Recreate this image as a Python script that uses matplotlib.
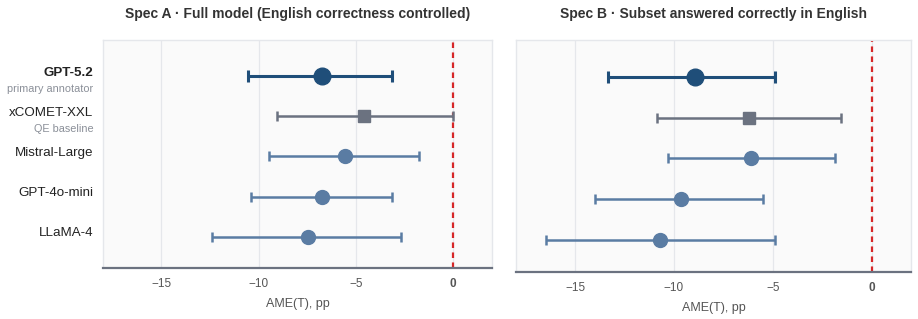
import matplotlib.pyplot as plt

plt.rcParams['font.family'] = ['Liberation Sans', 'DejaVu Sans']

models = ['GPT-5.2', 'xCOMET-XXL', 'Mistral-Large', 'GPT-4o-mini', 'LLaMA-4']
subtitles = ['primary annotator', 'QE baseline', '', '', '']

# Spec A: full model
ame_a = [-6.72, -4.6, -5.54, -6.72, -7.47]
lo_a = [-10.56, -9.03, -9.49, -10.4, -12.4]
hi_a = [-3.13, 0.0, -1.74, -3.14, -2.68]

# Spec B: subset correct in English
ame_b = [-8.94, -6.18, -6.08, -9.63, -10.71]
lo_b = [-13.32, -10.84, -10.28, -14.02, -16.5]
hi_b = [-4.9, -1.55, -1.84, -5.47, -4.88]

titles = ['Spec A · Full model (English correctness controlled)',
          'Spec B · Subset answered correctly in English']

colors = ['#1f4e79', '#6b7280', '#5a7ca3', '#5a7ca3', '#5a7ca3']
markers = ['o', 's', 'o', 'o', 'o']
msizes = [12, 9, 10, 10, 10]
lws = [2.2, 1.8, 1.8, 1.8, 1.8]

W, H = 918, 319
fig = plt.figure(figsize=(W / 100, H / 100), dpi=100)
ax_a = fig.add_axes([103 / W, 1 - 268 / H, (492 - 103) / W, (268 - 40) / H])
ax_b = fig.add_axes([516 / W, 1 - 272 / H, (911 - 516) / W, (272 - 40) / H])


def draw(ax, ame, lo, hi, title):
    ax.set_facecolor('#fafafa')
    for i in range(len(models)):
        ax.errorbar(ame[i], i, xerr=[[ame[i] - lo[i]], [hi[i] - ame[i]]],
                    fmt=markers[i], color=colors[i], ms=msizes[i],
                    elinewidth=lws[i], capsize=4 if i == 0 else 3.5,
                    capthick=lws[i], zorder=3)
    ax.axvline(0, color='#d62728', ls=(0, (2.5, 2)), lw=1.6, zorder=2)
    ax.set_xlim(-18, 2)
    ax.set_ylim(4.78, -0.9)
    ax.set_xticks([-15, -10, -5, 0])
    ax.set_xticklabels(['\u221215', '\u221210', '\u22125', '0'])
    ax.get_xticklabels()[-1].set_color('#d62728')
    ax.get_xticklabels()[-1].set_fontweight('bold')
    ax.grid(axis='x', color='#e5e7eb', lw=0.9, zorder=0)
    ax.set_axisbelow(True)
    ax.tick_params(axis='x', length=0, labelsize=8.5, colors='#555555', pad=7)
    ax.tick_params(axis='y', length=0)
    ax.set_yticks([])
    for s in ['top', 'left', 'right']:
        ax.spines[s].set_color('#e5e7eb')
        ax.spines[s].set_linewidth(1)
    ax.spines['bottom'].set_color('#6b7280')
    ax.spines['bottom'].set_linewidth(1.6)
    ax.set_xlabel('AME(T), pp', fontsize=9, color='#555555', labelpad=6)
    ax.set_title(title, fontsize=10, fontweight='bold', color='#333333', pad=16)


draw(ax_a, ame_a, lo_a, hi_a, titles[0])
draw(ax_b, ame_b, lo_b, hi_b, titles[1])

# row labels on the left panel
for i, m in enumerate(models):
    if subtitles[i]:
        ax_a.text(-18.5, i - 0.08, m, ha='right', va='center', fontsize=9.6,
                  color='#222222', fontweight='bold' if i == 0 else 'normal',
                  clip_on=False)
        ax_a.text(-18.5, i + 0.32, subtitles[i], ha='right', va='center',
                  fontsize=7.8, color='#8a8f98', clip_on=False)
    else:
        ax_a.text(-18.5, i - 0.08, m, ha='right', va='center', fontsize=9.6,
                  color='#222222', clip_on=False)

fig.savefig('out.png', dpi=100)
